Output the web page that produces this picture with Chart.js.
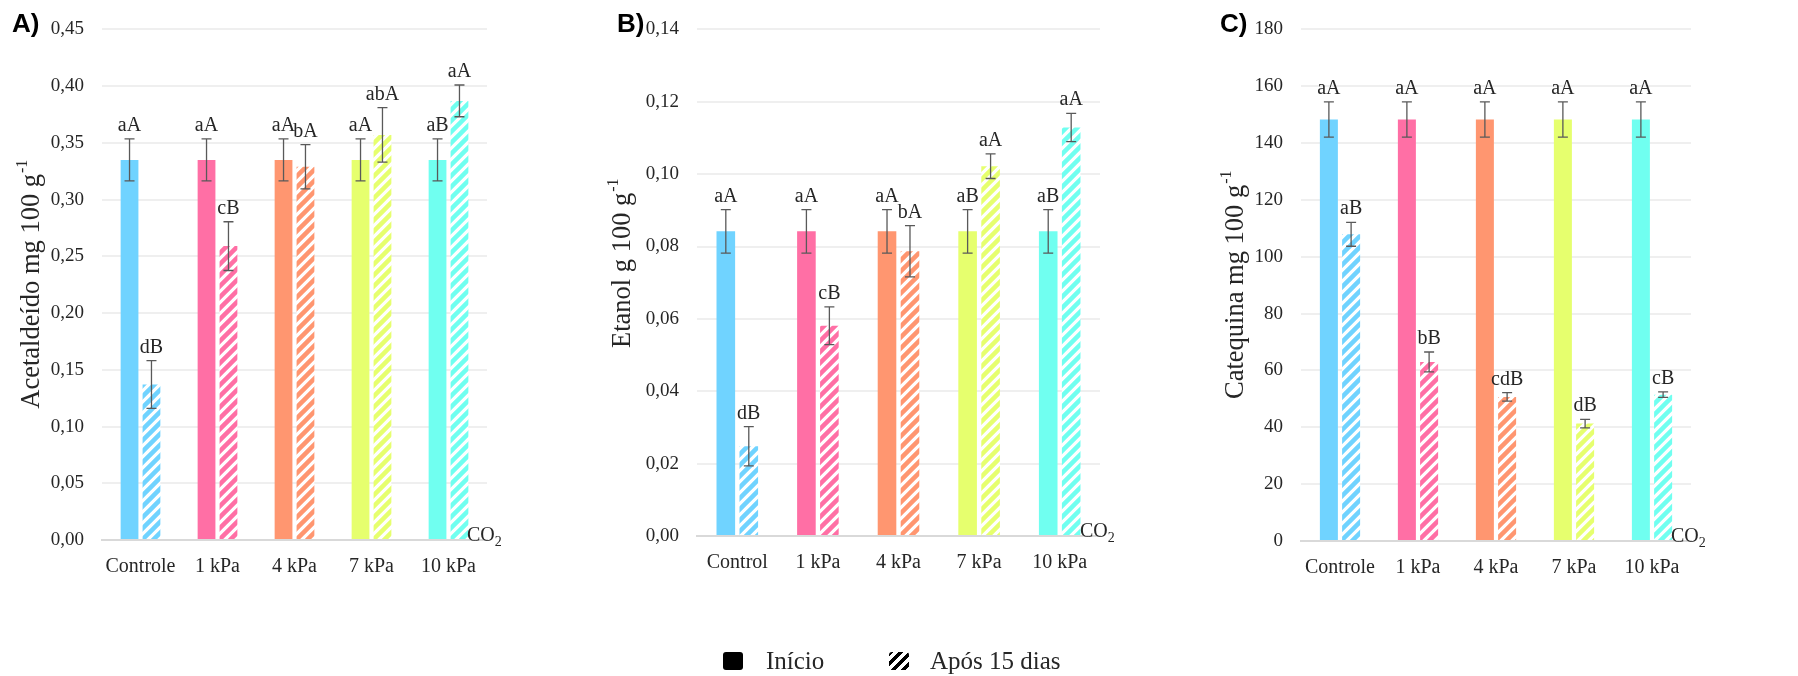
<!DOCTYPE html>
<html lang="pt">
<head>
    <meta charset="UTF-8">
    <title>Acetaldeído, Etanol e Catequina</title>
    <script src="https://cdn.jsdelivr.net/npm/chart.js"></script>
    <style>
        body {
            margin: 0;
            background: #ffffff;
        }

        .figura {
            position: relative;
            width: 1798px;
            height: 676px;
            font-family: 'Liberation Serif', serif;
            color: #262626;
        }

        .figura canvas {
            position: absolute;
            top: 0;
        }

        #painelA { left: 0; }
        #painelB { left: 600px; }
        #painelC { left: 1200px; }

        .legenda span {
            position: absolute;
        }

        .caixa {
            width: 20px;
            height: 18px;
            top: 652px;
            border-radius: 3px;
        }

        .solido {
            left: 723px;
            background: #000000;
        }

        .hachurado {
            left: 889px;
            background: repeating-linear-gradient(135deg, #000 0 3.5px, #fff 3.5px 7px);
        }

        .texto {
            top: 646px;
            font-size: 25px;
            line-height: 30px;
            white-space: nowrap;
        }
    </style>
</head>
<body>
<div class="figura">
    <canvas id="painelA" width="600" height="676"></canvas>
    <canvas id="painelB" width="600" height="676"></canvas>
    <canvas id="painelC" width="598" height="676"></canvas>

    <div class="legenda">
        <span class="caixa solido"></span>
        <span class="texto" style="left: 766px;">Início</span>
        <span class="caixa hachurado"></span>
        <span class="texto" style="left: 930px;">Após 15 dias</span>
    </div>
</div>

<script>
    // categorias (B usa "Control" no original)
    const categoriasA = ['Controle', '1 kPa', '4 kPa', '7 kPa', '10 kPa'];
    const categoriasB = ['Control', '1 kPa', '4 kPa', '7 kPa', '10 kPa'];
    const categoriasC = ['Controle', '1 kPa', '4 kPa', '7 kPa', '10 kPa'];

    const cores = ['#70d3ff', '#ff6fa5', '#ff9670', '#e6ff6e', '#70fff0'];

    // A) Acetaldeído mg 100 g-1
    const acetInicio = [0.335, 0.335, 0.335, 0.335, 0.335];
    const acetInicioErro = [0.0185, 0.0185, 0.0185, 0.0185, 0.0185];
    const acetApos = [0.137, 0.259, 0.329, 0.357, 0.387];
    const acetAposErro = [0.021, 0.0215, 0.0195, 0.024, 0.014];
    const acetLetrasInicio = ['aA', 'aA', 'aA', 'aA', 'aB'];
    const acetLetrasApos = ['dB', 'cB', 'bA', 'abA', 'aA'];
    const ticksA = ['0,00', '0,05', '0,10', '0,15', '0,20', '0,25', '0,30', '0,35', '0,40', '0,45'];

    // B) Etanol g 100 g-1
    const etanolInicio = [0.0842, 0.0842, 0.0842, 0.0842, 0.0842];
    const etanolInicioErro = [0.006, 0.006, 0.006, 0.006, 0.006];
    const etanolApos = [0.0248, 0.0581, 0.0787, 0.1022, 0.1129];
    const etanolAposErro = [0.0054, 0.0052, 0.0071, 0.0034, 0.0039];
    const etanolLetrasInicio = ['aA', 'aA', 'aA', 'aB', 'aB'];
    const etanolLetrasApos = ['dB', 'cB', 'bA', 'aA', 'aA'];
    const ticksB = ['0,00', '0,02', '0,04', '0,06', '0,08', '0,10', '0,12', '0,14'];

    // C) Catequina mg 100 g-1
    const catInicio = [148.3, 148.3, 148.3, 148.3, 148.3];
    const catInicioErro = [6.2, 6.2, 6.2, 6.2, 6.2];
    const catApos = [107.9, 63.0, 50.7, 41.3, 51.5];
    const catAposErro = [4.2, 3.5, 1.5, 1.5, 1.0];
    const catLetrasInicio = ['aA', 'aA', 'aA', 'aA', 'aA'];
    const catLetrasApos = ['aB', 'bB', 'cdB', 'dB', 'cB'];
    const ticksC = ['0', '20', '40', '60', '80', '100', '120', '140', '160', '180'];

    const FONTE = "'Liberation Serif', serif";
    const COR_TEXTO = '#262626';

    // listras diagonais "/" sobre branco
    function hachura(cor) {
        const t = 11;
        const c = document.createElement('canvas');
        c.width = t; c.height = t;
        const g = c.getContext('2d');
        g.fillStyle = '#ffffff';
        g.fillRect(0, 0, t, t);
        g.strokeStyle = cor;
        g.lineWidth = 4.5;
        g.beginPath();
        g.moveTo(-t / 2, t * 1.5); g.lineTo(t * 1.5, -t / 2);
        g.moveTo(-t / 2, t / 2); g.lineTo(t / 2, -t / 2);
        g.moveTo(t / 2, t * 1.5); g.lineTo(t * 1.5, t / 2);
        g.stroke();
        return g.createPattern(c, 'repeat');
    }

    const pluginErros = {
        id: 'erros',
        afterDatasetsDraw(chart) {
            const ctx = chart.ctx;
            const y = chart.scales.y;
            ctx.save();
            chart.data.datasets.forEach((ds, i) => {
                chart.getDatasetMeta(i).data.forEach((barra, j) => {
                    const v = ds.data[j], e = ds.erros[j];
                    const yt = y.getPixelForValue(v + e);
                    const yb = y.getPixelForValue(v - e);
                    ctx.strokeStyle = '#595959';
                    ctx.lineWidth = 1.3;
                    ctx.beginPath();
                    ctx.moveTo(barra.x, yt); ctx.lineTo(barra.x, yb);
                    ctx.moveTo(barra.x - 5, yt); ctx.lineTo(barra.x + 5, yt);
                    ctx.moveTo(barra.x - 5, yb); ctx.lineTo(barra.x + 5, yb);
                    ctx.stroke();

                    ctx.fillStyle = COR_TEXTO;
                    ctx.font = '20px ' + FONTE;
                    ctx.textAlign = 'center';
                    ctx.textBaseline = 'alphabetic';
                    ctx.fillText(ds.letras[j], barra.x, yt - 8);
                });
            });
            ctx.restore();
        }
    };

    const pluginTextos = {
        id: 'textos',
        afterDraw(chart, args, opts) {
            const ctx = chart.ctx;
            const area = chart.chartArea;
            ctx.save();

            // letra do painel
            ctx.fillStyle = '#000000';
            ctx.font = "bold 26px 'Liberation Sans', sans-serif";
            ctx.textAlign = 'left';
            ctx.textBaseline = 'middle';
            ctx.fillText(opts.painel, opts.painelX, 25);

            // título do eixo y com expoente
            ctx.fillStyle = COR_TEXTO;
            ctx.translate(opts.tituloX, (area.top + area.bottom) / 2 + opts.tituloDy);
            ctx.rotate(-Math.PI / 2);
            ctx.font = '26.5px ' + FONTE;
            const w1 = ctx.measureText(opts.titulo).width;
            ctx.font = '16px ' + FONTE;
            const w2 = ctx.measureText('-1').width;
            const x0 = -(w1 + w2) / 2;
            ctx.textAlign = 'left';
            ctx.textBaseline = 'middle';
            ctx.font = '26.5px ' + FONTE;
            ctx.fillText(opts.titulo, x0, 0);
            ctx.font = '16px ' + FONTE;
            ctx.fillText('-1', x0 + w1 + 1, -9);
            ctx.setTransform(1, 0, 0, 1, 0, 0);

            // CO2
            ctx.textBaseline = 'alphabetic';
            ctx.font = '20px ' + FONTE;
            const xc = area.right - 20;
            ctx.fillText('CO', xc, area.bottom + 0.5);
            const wc = ctx.measureText('CO').width;
            ctx.font = '14px ' + FONTE;
            ctx.fillText('2', xc + wc, area.bottom + 5.5);
            ctx.restore();
        }
    };

    function criarPainel(id, p) {
        const ctx = document.getElementById(id).getContext('2d');
        const largura = ctx.canvas.width;
        return new Chart(ctx, {
            type: 'bar',
            data: {
                labels: p.categorias,
                datasets: [
                    {
                        label: 'Início',
                        data: p.inicio,
                        erros: p.inicioErro,
                        letras: p.letrasInicio,
                        backgroundColor: cores,
                        categoryPercentage: 0.57,
                        barPercentage: 0.81
                    },
                    {
                        label: 'Após 15 dias',
                        data: p.apos,
                        erros: p.aposErro,
                        letras: p.letrasApos,
                        backgroundColor: cores.map(hachura),
                        categoryPercentage: 0.57,
                        barPercentage: 0.81
                    }
                ]
            },
            options: {
                responsive: false,
                animation: false,
                layout: {
                    padding: { left: 0, top: p.topo, right: largura - p.direita, bottom: 0 }
                },
                plugins: {
                    legend: { display: false },
                    tooltip: { enabled: false },
                    textos: p.textos
                },
                scales: {
                    x: {
                        grid: { display: false, drawTicks: false },
                        border: { display: true, color: '#d9d9d9', width: 2 },
                        ticks: {
                            padding: 15,
                            color: COR_TEXTO,
                            maxRotation: 0,
                            autoSkip: false,
                            font: { family: FONTE, size: 20 }
                        },
                        afterFit: s => { s.height = 676 - p.base; }
                    },
                    y: {
                        min: 0,
                        max: parseFloat(p.ticks[p.ticks.length - 1].replace(',', '.')),
                        afterBuildTicks: s => {
                            s.ticks = p.ticks.map(t => ({ value: parseFloat(t.replace(',', '.')) }));
                        },
                        ticks: {
                            padding: 18,
                            color: COR_TEXTO,
                            font: { family: FONTE, size: 19 },
                            callback: (v, i) => p.ticks[i]
                        },
                        grid: {
                            drawTicks: false,
                            lineWidth: 2,
                            color: c => (c.tick && c.tick.value === 0) ? '#d9d9d9' : '#efefef'
                        },
                        border: { display: false },
                        afterFit: s => { s.width = p.esquerda; }
                    }
                }
            },
            plugins: [pluginErros, pluginTextos]
        });
    }

    criarPainel('painelA', {
        categorias: categoriasA,
        inicio: acetInicio, inicioErro: acetInicioErro, letrasInicio: acetLetrasInicio,
        apos: acetApos, aposErro: acetAposErro, letrasApos: acetLetrasApos,
        ticks: ticksA,
        esquerda: 102, direita: 487, topo: 23, base: 540,
        textos: { painel: 'A)', painelX: 12, titulo: 'Acetaldeído mg 100 g', tituloX: 32, tituloDy: 0 }
    });

    criarPainel('painelB', {
        categorias: categoriasB,
        inicio: etanolInicio, inicioErro: etanolInicioErro, letrasInicio: etanolLetrasInicio,
        apos: etanolApos, aposErro: etanolAposErro, letrasApos: etanolLetrasApos,
        ticks: ticksB,
        esquerda: 97, direita: 500, topo: 24, base: 536,
        textos: { painel: 'B)', painelX: 17, titulo: 'Etanol g 100 g', tituloX: 23, tituloDy: -19 }
    });

    criarPainel('painelC', {
        categorias: categoriasC,
        inicio: catInicio, inicioErro: catInicioErro, letrasInicio: catLetrasInicio,
        apos: catApos, aposErro: catAposErro, letrasApos: catLetrasApos,
        ticks: ticksC,
        esquerda: 101, direita: 491, topo: 24, base: 541,
        textos: { painel: 'C)', painelX: 20, titulo: 'Catequina mg 100 g', tituloX: 36, tituloDy: 0 }
    });
</script>
</body>
</html>
